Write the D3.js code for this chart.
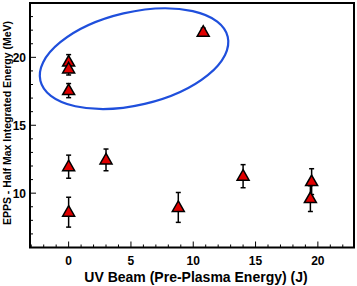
<!DOCTYPE html>
<html><head><meta charset="utf-8">
<script src="https://cdn.jsdelivr.net/npm/d3@7"></script>
<style>body{margin:0;background:#fff}svg{display:block}</style>
</head><body><svg id="c" width="357" height="286"></svg>
<script>
const energyJ = [0, 0, 0, 0, 0, 3, 8.8, 10.8, 14, 19.5, 19.4];
const eppsMeV = [19.65, 19.15, 17.55, 11.95, 8.6, 12.45, 8.95, 21.85, 11.25, 10.85, 9.6];
const errMeV  = [0.55, 0.45, 0.52, 0.85, 1.1, 0.8, 1.1, 0.3, 0.85, 0.95, 0.95];
const xTicks = [0, 5, 10, 15, 20];
const yTicks = [10, 15, 20];
const xDomain = [-3.1, 22.9];
const yDomain = [6, 24];
// highlight ellipse: center in data units, semi-axes in x-data units, rotation in degrees
const ellipseCenter = [5.25, 19.9];
const ellipseAxes = [7.72, 3.73];
const ellipseAngle = -13.2;

const svg = d3.select("#c");
const L = 30, R = 354, T = 3, B = 247.5;
const x = d3.scaleLinear().domain(xDomain).range([L, R]);
const y = d3.scaleLinear().domain(yDomain).range([B, T]);
const font = "'Liberation Sans', Arial, sans-serif";

const g = svg.append("g");
const xMinor = d3.range(-3, 23, 1);
const yMinor = d3.range(6, 25, 1);
g.selectAll(".xm").data(xMinor).join("line")
  .attr("x1", d => x(d)).attr("x2", d => x(d))
  .attr("y1", B).attr("y2", d => B - (d % 5 === 0 ? 6 : 3))
  .attr("stroke", "#000").attr("stroke-width", 1);
g.selectAll(".ym").data(yMinor).join("line")
  .attr("y1", d => y(d)).attr("y2", d => y(d))
  .attr("x1", L).attr("x2", d => L + (d % 5 === 0 ? 6 : 3))
  .attr("stroke", "#000").attr("stroke-width", 1);

g.selectAll(".xl").data(xTicks).join("text")
  .attr("x", d => x(d)).attr("y", 265)
  .attr("text-anchor", "middle").attr("font-family", font)
  .attr("font-weight", "bold").attr("font-size", 12).text(d => d);
g.selectAll(".yl").data(yTicks).join("text")
  .attr("x", L - 4).attr("y", d => y(d) + 4.5)
  .attr("text-anchor", "end").attr("font-family", font)
  .attr("font-weight", "bold").attr("font-size", 12).text(d => d);

svg.append("text").attr("x", 196).attr("y", 282)
  .attr("text-anchor", "middle").attr("font-family", font)
  .attr("font-weight", "bold").attr("font-size", 14)
  .text("UV Beam (Pre-Plasma Energy) (J)");
svg.append("text").attr("transform", "translate(10.5,123) rotate(-90)")
  .attr("text-anchor", "middle").attr("font-family", font)
  .attr("font-weight", "bold").attr("font-size", 10.5)
  .text("EPPS - Half Max Integrated Energy (MeV)");

svg.append("rect").attr("x", L).attr("y", T).attr("width", R - L).attr("height", B - T)
  .attr("fill", "none").attr("stroke", "#000").attr("stroke-width", 2);

const pxPerX = x(1) - x(0);
svg.append("ellipse")
  .attr("cx", 0).attr("cy", 0)
  .attr("rx", ellipseAxes[0] * pxPerX).attr("ry", ellipseAxes[1] * pxPerX)
  .attr("transform", `translate(${x(ellipseCenter[0])},${y(ellipseCenter[1])}) rotate(${ellipseAngle})`)
  .attr("fill", "none").attr("stroke", "#1f4fdc").attr("stroke-width", 2.2);

const pts = energyJ.map((e, i) => ({x: e, y: eppsMeV[i], err: errMeV[i]}));
const eb = svg.append("g").attr("stroke", "#000").attr("stroke-width", 1.5);
pts.forEach(p => {
  const cx = x(p.x), y1 = y(p.y + p.err), y2 = y(p.y - p.err);
  eb.append("line").attr("x1", cx).attr("x2", cx).attr("y1", y1).attr("y2", y2);
  eb.append("line").attr("x1", cx - 2.5).attr("x2", cx + 2.5).attr("y1", y1).attr("y2", y1);
  eb.append("line").attr("x1", cx - 2.5).attr("x2", cx + 2.5).attr("y1", y2).attr("y2", y2);
});

svg.append("g").selectAll("path").data(pts).join("path")
  .attr("d", d => {
    const cx = x(d.x), cy = y(d.y);
    return `M${cx},${cy - 6.5}L${cx + 6},${cy + 4}L${cx - 6},${cy + 4}Z`;
  })
  .attr("fill", "#e00000").attr("stroke", "#000").attr("stroke-width", 1.5)
  .attr("stroke-linejoin", "miter");
</script></body></html>
